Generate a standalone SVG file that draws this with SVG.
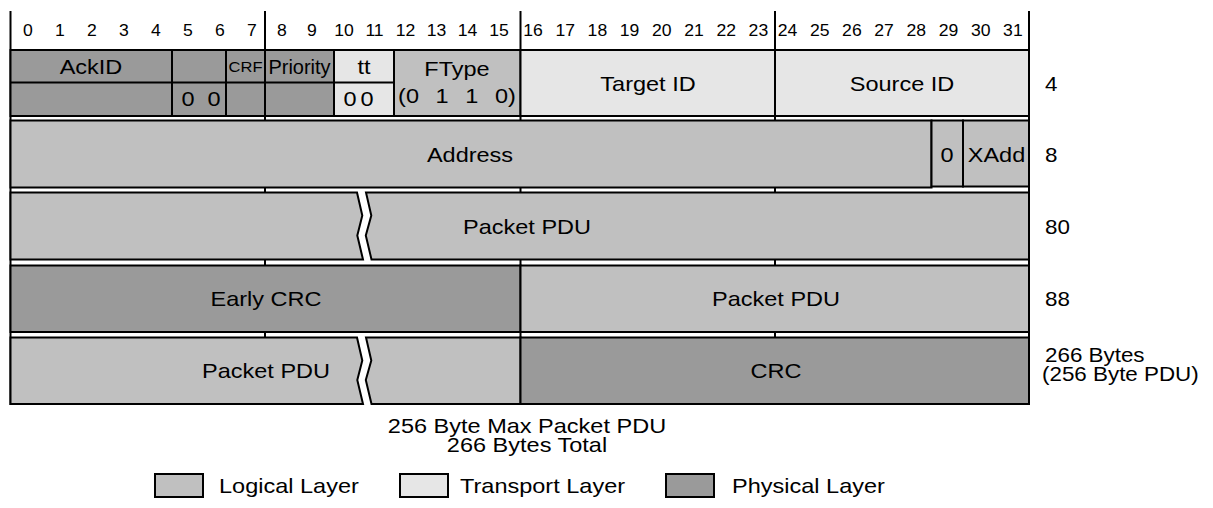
<svg xmlns="http://www.w3.org/2000/svg" width="1213" height="508" viewBox="0 0 1213 508">
<style>
text { font-family: "Liberation Sans", Arial, Helvetica, sans-serif; fill: #000; }
.lbl { font-size: 21px; text-anchor: middle; }
.num { font-size: 16px; text-anchor: middle; }
.rt { font-size: 20px; }
.lg { font-size: 21px; }
.phy { fill: #9a9a9a; stroke: #000; stroke-width: 2; }
.log { fill: #c0c0c0; stroke: #000; stroke-width: 2; }
.trn { fill: #e6e6e6; stroke: #000; stroke-width: 2; }
.ln { stroke: #000; stroke-width: 2; fill: none; }
</style>
<rect width="1213" height="508" fill="#ffffff"/>
<g id="frame">
  <line class="ln" x1="10.5" y1="11" x2="10.5" y2="405"/>
  <line class="ln" x1="1029" y1="11" x2="1029" y2="405"/>
  <line class="ln" x1="265" y1="11" x2="265" y2="338"/>
  <line class="ln" x1="520.5" y1="11" x2="520.5" y2="338"/>
  <line class="ln" x1="775" y1="11" x2="775" y2="338"/>
</g>
<g id="header">
  <text class="num" transform="matrix(1.1 0 0 1 28 36)">0</text>
  <text class="num" transform="matrix(1.1 0 0 1 60 36)">1</text>
  <text class="num" transform="matrix(1.1 0 0 1 92 36)">2</text>
  <text class="num" transform="matrix(1.1 0 0 1 124 36)">3</text>
  <text class="num" transform="matrix(1.1 0 0 1 156 36)">4</text>
  <text class="num" transform="matrix(1.1 0 0 1 188 36)">5</text>
  <text class="num" transform="matrix(1.1 0 0 1 220 36)">6</text>
  <text class="num" transform="matrix(1.1 0 0 1 252 36)">7</text>
  <text class="num" transform="matrix(1.1 0 0 1 282 36)">8</text>
  <text class="num" transform="matrix(1.1 0 0 1 312 36)">9</text>
  <text class="num" transform="matrix(1.1 0 0 1 344 36)">10</text>
  <text class="num" transform="matrix(1.1 0 0 1 374.5 36)">11</text>
  <text class="num" transform="matrix(1.1 0 0 1 405.5 36)">12</text>
  <text class="num" transform="matrix(1.1 0 0 1 436.5 36)">13</text>
  <text class="num" transform="matrix(1.1 0 0 1 467.5 36)">14</text>
  <text class="num" transform="matrix(1.1 0 0 1 499 36)">15</text>
  <text class="num" transform="matrix(1.1 0 0 1 533 36)">16</text>
  <text class="num" transform="matrix(1.1 0 0 1 565.2 36)">17</text>
  <text class="num" transform="matrix(1.1 0 0 1 597.4 36)">18</text>
  <text class="num" transform="matrix(1.1 0 0 1 629.6 36)">19</text>
  <text class="num" transform="matrix(1.1 0 0 1 661.8 36)">20</text>
  <text class="num" transform="matrix(1.1 0 0 1 694 36)">21</text>
  <text class="num" transform="matrix(1.1 0 0 1 726.2 36)">22</text>
  <text class="num" transform="matrix(1.1 0 0 1 758.4 36)">23</text>
  <text class="num" transform="matrix(1.1 0 0 1 787.5 36)">24</text>
  <text class="num" transform="matrix(1.1 0 0 1 819.7 36)">25</text>
  <text class="num" transform="matrix(1.1 0 0 1 851.9 36)">26</text>
  <text class="num" transform="matrix(1.1 0 0 1 884.1 36)">27</text>
  <text class="num" transform="matrix(1.1 0 0 1 916.3 36)">28</text>
  <text class="num" transform="matrix(1.1 0 0 1 948.5 36)">29</text>
  <text class="num" transform="matrix(1.1 0 0 1 980.7 36)">30</text>
  <text class="num" transform="matrix(1.1 0 0 1 1012.9 36)">31</text>
</g>
<g id="row1">
  <rect class="phy" x="10.5" y="50" width="161.5" height="66"/>
  <rect class="phy" x="172" y="50" width="54" height="66"/>
  <rect class="phy" x="226" y="50" width="39" height="66"/>
  <rect class="phy" x="265" y="50" width="69" height="66"/>
  <rect class="trn" x="334" y="50" width="60" height="66"/>
  <rect class="log" x="394" y="50" width="126.5" height="66"/>
  <rect class="trn" x="520.5" y="50" width="254.5" height="66"/>
  <rect class="trn" x="775" y="50" width="254" height="66"/>
  <line class="ln" x1="10.5" y1="82.5" x2="394" y2="82.5"/>
  <text class="lbl" transform="matrix(1.12 0 0 1 91 74)">AckID</text>
  <text class="lbl" transform="matrix(1.12 0 0 1 188 106)">0</text>
  <text class="lbl" transform="matrix(1.12 0 0 1 214 106)">0</text>
  <text transform="matrix(1.18 0 0 1 245.5 72)" style="font-size:14px;text-anchor:middle">CRF</text>
  <text x="299.5" y="74" style="font-size:20px;text-anchor:middle">Priority</text>
  <text class="lbl" transform="matrix(1.12 0 0 1 364 74)">tt</text>
  <text class="lbl" transform="matrix(1.12 0 0 1 350 106)">0</text>
  <text class="lbl" transform="matrix(1.12 0 0 1 367 106)">0</text>
  <text class="lbl" transform="matrix(1.12 0 0 1 457 76)">FType</text>
  <text class="lbl" transform="matrix(1.12 0 0 1 457 103)" style="word-spacing:9px">(0 1 1 0)</text>
  <text class="lbl" transform="matrix(1.12 0 0 1 648 90.5)">Target ID</text>
  <text class="lbl" transform="matrix(1.12 0 0 1 902 90.5)">Source ID</text>
</g>
<g id="row2">
  <rect class="log" x="10.5" y="120.5" width="921" height="67"/>
  <rect class="log" x="931.5" y="120.5" width="31.5" height="66"/>
  <rect class="log" x="963" y="120.5" width="66" height="66"/>
  <text class="lbl" transform="matrix(1.12 0 0 1 470 161.5)">Address</text>
  <text class="lbl" transform="matrix(1.12 0 0 1 947 161.5)">0</text>
  <text class="lbl" transform="matrix(1.12 0 0 1 996.5 161.5)">XAdd</text>
</g>
<g id="row3">
  <polygon class="log" points="10.5,192.5 357,192.5 362.3,215.5 357.3,235.5 363,259.5 10.5,259.5"/>
  <polygon class="log" points="366,192.5 1029,192.5 1029,259.5 371.5,259.5 365.8,235.5 371.3,215.5"/>
  <text class="lbl" transform="matrix(1.12 0 0 1 527 233.5)">Packet PDU</text>
</g>
<g id="row4">
  <rect class="phy" x="10.5" y="265.5" width="510" height="66.5"/>
  <rect class="log" x="520.5" y="265.5" width="508.5" height="66.5"/>
  <text class="lbl" transform="matrix(1.12 0 0 1 266 306)">Early CRC</text>
  <text class="lbl" transform="matrix(1.12 0 0 1 776 306)">Packet PDU</text>
</g>
<g id="row5">
  <polygon class="log" points="10.5,337.5 357,337.5 362.3,360.5 357.3,380 363,404 10.5,404"/>
  <polygon class="log" points="366,337.5 520.5,337.5 520.5,404 371.5,404 365.8,380 371.3,360.5"/>
  <rect class="phy" x="520.5" y="337.5" width="508.5" height="66.5"/>
  <text class="lbl" transform="matrix(1.12 0 0 1 266 378)">Packet PDU</text>
  <text class="lbl" transform="matrix(1.12 0 0 1 776 378)">CRC</text>
</g>
<g id="sizes">
  <text class="rt" transform="matrix(1.12 0 0 1 1045 91)">4</text>
  <text class="rt" transform="matrix(1.12 0 0 1 1045 162)">8</text>
  <text class="rt" transform="matrix(1.12 0 0 1 1045 234)">80</text>
  <text class="rt" transform="matrix(1.12 0 0 1 1045 306)">88</text>
  <text class="rt" transform="matrix(1.12 0 0 1 1045 362)">266 Bytes</text>
  <text class="rt" transform="matrix(1.12 0 0 1 1042 381)">(256 Byte PDU)</text>
</g>
<g id="caption">
  <text class="lbl" transform="matrix(1.12 0 0 1 527 433)">256 Byte Max Packet PDU</text>
  <text class="lbl" transform="matrix(1.12 0 0 1 527 452)">266 Bytes Total</text>
</g>
<g id="legend">
  <rect class="log" x="155" y="474" width="48" height="23"/>
  <text class="lg" transform="matrix(1.12 0 0 1 219 493)">Logical Layer</text>
  <rect class="trn" x="400" y="474" width="48" height="23"/>
  <text class="lg" transform="matrix(1.12 0 0 1 460 493)">Transport Layer</text>
  <rect class="phy" x="666" y="474" width="48" height="23"/>
  <text class="lg" transform="matrix(1.12 0 0 1 732 493)">Physical Layer</text>
</g>
</svg>
